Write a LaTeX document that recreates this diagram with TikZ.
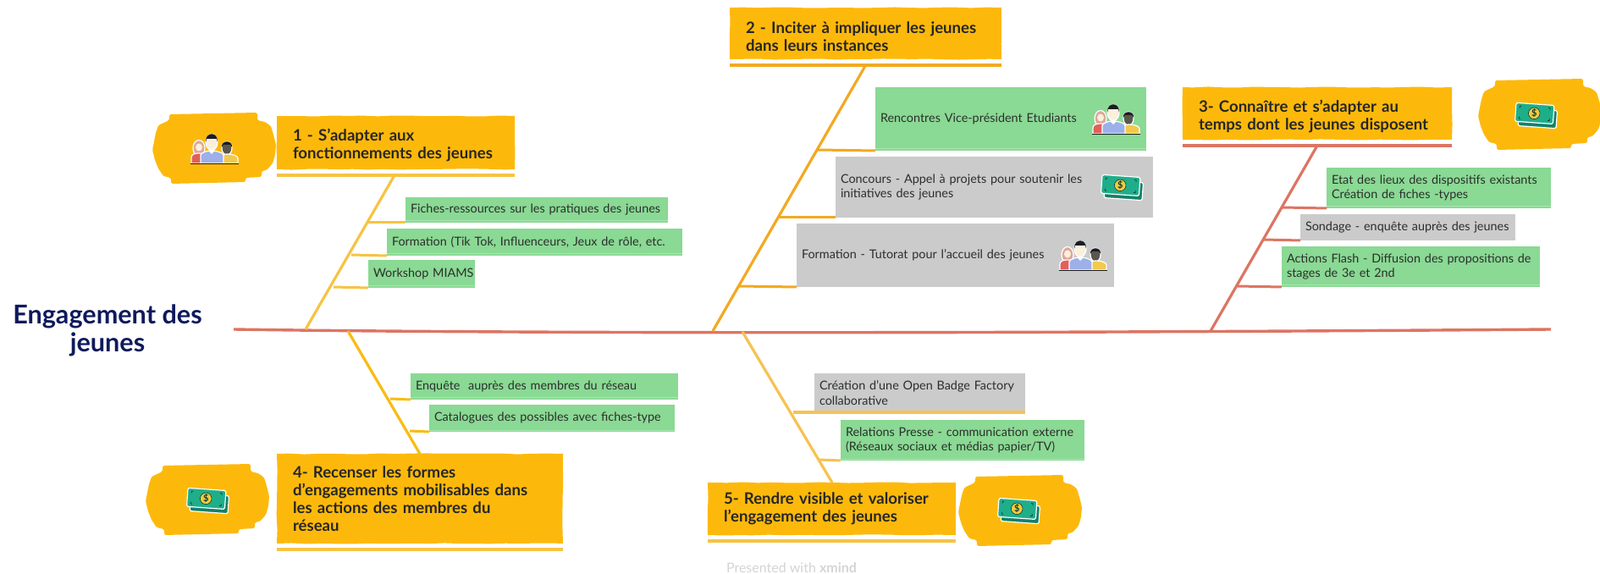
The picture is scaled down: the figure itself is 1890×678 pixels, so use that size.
\documentclass[tikz,border=0pt]{standalone}
\usepackage{fontspec}
\setmainfont{Lato}
\usetikzlibrary{decorations.pathmorphing}
\definecolor{topicyellow}{HTML}{FDB90B}
\definecolor{leafgreen}{HTML}{8AD994}
\definecolor{leaflip}{HTML}{A8E6B0}
\definecolor{leafgray}{HTML}{CBCBCB}
\definecolor{inkgray}{HTML}{2B2F2C}
\definecolor{titlenavy}{HTML}{0E1A5C}
\definecolor{spinered}{HTML}{DC7563}
\definecolor{branchone}{HTML}{F6C444}
\definecolor{branchtwo}{HTML}{F2A922}
\definecolor{branchfour}{HTML}{F8BC14}
\definecolor{branchfive}{HTML}{F6C252}
\definecolor{notefront}{HTML}{1FAE8A}
\definecolor{noteback}{HTML}{15806A}
\definecolor{noteink}{HTML}{0F3D33}
\definecolor{coingold}{HTML}{F5CB3C}
\definecolor{skincream}{HTML}{FBF0DC}
\definecolor{bodyred}{HTML}{E0605A}
\definecolor{hairpink}{HTML}{DFA79B}
\definecolor{bodyblue}{HTML}{9DB0EA}
\definecolor{bodyyellow}{HTML}{F2C94C}
\definecolor{skindark}{HTML}{5A564E}
\definecolor{hairblack}{HTML}{1C1C22}
\newcommand{\topdrop}{\rule{0pt}{10.5pt}}
\tikzset{
	leaf/.style={anchor=north west, outer sep=0pt, inner xsep=3pt, inner ysep=0pt, align=left, text=inkgray, font=\fontsize{7.2}{8.7}\selectfont},
	greenleaf/.style={leaf, fill=leafgreen},
	grayleaf/.style={leaf, fill=leafgray},
	leafsize/.style 2 args={minimum height=#2*0.5pt, text width=#1*0.5pt-6pt},
	topic/.style={anchor=north west, outer sep=0pt, inner xsep=9.5pt, inner ysep=0pt, align=left, fill=topicyellow, text=black!85, font=\fontsize{9.3}{10.5}\selectfont\bfseries, decorate, decoration={random steps, segment length=9pt, amplitude=0.3pt}},
	topicsize/.style 2 args={minimum height=#2*0.5pt, text width=#1*0.5pt-19pt},
	bone/.style={line width=1.6pt},
	twig/.style={line width=1.5pt},
	under/.style={line width=2pt},
	halo/.style={draw=white, line width=0.6pt},
	blob/.pic={
		\fill[topicyellow, rounded corners=1.2pt] (-53,-40) -- (51,-42) -- (51,-33) -- (60,-31) -- (67,-26) -- (70,-16) -- (73,-4) -- (72,8) -- (69,18) -- (62,26) -- (56,27) -- (56,34) -- (37,35) -- (37,40) -- (-51,42) -- (-51,35) -- (-60,33) -- (-66,24) -- (-70,14) -- (-73,2) -- (-71,-8) -- (-69,-18) -- (-66,-27) -- (-53,-33) -- cycle;
	},
	money/.pic={
		\begin{scope}[rotate=-4]
			\draw[halo, fill=noteback, rounded corners=0.8pt] (-20,-8) rectangle (25,13);
			\draw[halo, fill=notefront, rounded corners=0.8pt] (-24,-14) rectangle (21,8);
			\foreach \sx/\sy in {-1/-1, 1/-1, -1/1, 1/1}
				\draw[noteink, line width=0.35pt] ({-1.5+\sx*16}, {-3+\sy*7.5}) -- ({-1.5+\sx*18}, {-3+\sy*7.5}) -- ({-1.5+\sx*18}, {-3+\sy*5});
			\draw[noteink, line width=0.3pt, fill=coingold] (-2,-3) circle (6.8);
			\node[inner sep=0pt, text=noteink, font=\fontsize{5.5}{6}\selectfont\bfseries] (-dollar) at (-2,-3) {\$};
		\end{scope}
	},
	people/.pic={
		\draw[halo, fill=hairpink] (-18,0) ellipse (7 and 9.5);
		\fill[skincream] (-18,-1) ellipse (4 and 4.5);
		\draw[halo, fill=bodyred] (-27,18) -- (-27,11) .. controls (-27,7) and (-22,6) .. (-18,6) .. controls (-14,6) and (-9,7) .. (-9,11) -- (-9,18) -- cycle;
		\draw[halo, fill=skindark] (15,0) ellipse (6 and 8);
		\fill[hairblack] (9,-1) .. controls (8,-10) and (22,-10) .. (21,-1) -- (19,-4) -- (11,-4) -- cycle;
		\draw[halo, fill=bodyyellow] (9,18) -- (9,10) .. controls (10,8) and (12,7) .. (15,7) .. controls (22,7) and (28,9) .. (28,12) -- (28,18) -- cycle;
		\draw[halo, fill=skincream] (-3,-7) ellipse (7 and 9.5);
		\fill[hairblack] (-10,-7) .. controls (-11,-20) and (5,-20) .. (4,-7) -- (3,-11) -- (-9,-11) -- cycle;
		\draw[halo, fill=bodyblue] (-16,18) -- (-16,8) .. controls (-15,5) and (-8,3) .. (-3,3) .. controls (2,3) and (10,5) .. (11,8) -- (11,18) -- cycle;
		\fill[white] (-7,3) -- (-3,7) -- (1,3) -- (-3,1.5) -- cycle;
		\draw[hairblack, line width=0.4pt] (-28,18) -- (28.5,18);
	},
}
\begin{document}
\begin{tikzpicture}[x=0.5pt, y=-0.5pt]
	\useasboundingbox (0,0) rectangle (1890,678);

	\node[inner sep=0pt, align=center, text=titlenavy, font=\fontsize{15.3}{16.5}\selectfont\bfseries] (title) at (127,390) {Engagement des\\jeunes};
	\node[inner sep=0pt, text=black!17, font=\fontsize{8}{9}\selectfont] (xmind) at (935,671) {Presented with \textbf{xmind}};

	\coordinate (spineL) at (276,389);
	\coordinate (spineR) at (1832,389);
	\draw[spinered, line width=1.7pt] (spineL) .. controls (600,394) and (1200,394) .. (spineR);

	% topics
	\pic at (253,175) {blob};
	\node[topic, topicsize={281}{63}] (topic1) at (327,137) {\topdrop 1 - S'adapter aux\\fonctionnements des jeunes};
	\node[topic, topicsize={321}{61}] (topic2) at (862,9) {\topdrop 2 - Inciter à impliquer les jeunes\\dans leurs instances};
	\pic at (1819,135) {blob};
	\node[topic, topicsize={318}{62}] (topic3) at (1397,103) {\topdrop 3- Connaître et s'adapter au\\temps dont les jeunes disposent};
	\pic at (245,590) {blob};
	\node[topic, topicsize={338}{106}] (topic4) at (327,536) {4- Recenser les formes\\d'engagements mobilisables dans\\les actions des membres du\\réseau};
	\pic at (1205,603) {blob};
	\node[topic, topicsize={293}{62}] (topic5) at (836,570) {5- Rendre visible et valoriser\\l'engagement des jeunes};

	\draw[under, branchone] ([yshift=-3.5pt]topic1.south west) -- ([yshift=-3.5pt]topic1.south east);
	\draw[under, branchtwo] ([yshift=-3.5pt]topic2.south west) -- ([yshift=-3.5pt]topic2.south east);
	\draw[under, spinered] ([yshift=-3.5pt]topic3.south west) -- ([yshift=-3.5pt]topic3.south east);
	\draw[under, branchone] ([yshift=-3.5pt]topic4.south west) -- ([yshift=-3.5pt]topic4.south east);
	\draw[under, branchone] ([yshift=-3.5pt]topic5.south west) -- ([yshift=-3.5pt]topic5.south east);

	% leaves
	\node[greenleaf, leafsize={310}{30}] (f1) at (479,233) {\mbox{Fiches-ressources sur les pratiques des jeunes}};
	\node[greenleaf, leafsize={349}{32}] (f2) at (457,270) {\mbox{Formation (Tik Tok, Influenceurs, Jeux de rôle, etc.}};
	\node[greenleaf, leafsize={126}{33}] (f3) at (435,307) {\mbox{Workshop MIAMS}};

	\node[greenleaf, leafsize={320}{75}] (g1) at (1034,103) {Rencontres Vice-président Etudiants};
	\node[grayleaf, leafsize={375}{72}] (g2) at (987,185) {Concours - Appel à projets pour soutenir les\\initiatives des jeunes};
	\node[grayleaf, leafsize={375}{75}] (g3) at (941,264) {Formation - Tutorat pour l'accueil des jeunes};

	\node[greenleaf, leafsize={265}{48}] (h1) at (1567,198) {\mbox{Etat des lieux des dispositifs existants}\\Création de fiches -types};
	\node[grayleaf, leafsize={254}{31}] (h2) at (1536,253) {\mbox{Sondage - enquête auprès des jeunes}};
	\node[greenleaf, leafsize={305}{48}] (h3) at (1514,291) {\mbox{Actions Flash - Diffusion des propositions de}\\stages de 3e et 2nd};

	\node[greenleaf, leafsize={316}{31}] (j1) at (485,441) {Enquête~ auprès des membres du réseau};
	\node[greenleaf, leafsize={290}{32}] (j2) at (507,478) {\mbox{Catalogues des possibles avec fiches-type}};

	\node[grayleaf, leafsize={249}{46}] (k1) at (962,441) {Création d'une Open Badge Factory\\collaborative};
	\node[greenleaf, leafsize={288}{48}] (k2) at (993,496) {\mbox{Relations Presse - communication externe}\\(Réseaux sociaux et médias papier/TV)};

	\foreach \n in {f1,f2,f3,g1,h1,h3,j1,j2,k2}
		\draw[leaflip, line width=0.5pt] ([yshift=1pt]\n.south west) -- ([yshift=1pt]\n.south east);

	% icons
	\pic (icon1) at (253,175) {people};
	\pic (icon2) at (1318,140) {people};
	\pic (icon3) at (1325,222) {money};
	\pic (icon4) at (1279,301) {people};
	\pic (icon5) at (1814,137) {money};
	\pic (icon6) at (245,592) {money};
	\pic (icon7) at (1203,604) {money};

	% branches
	\coordinate (b1) at (466,207);
	\coordinate (s1) at (361,389);
	\coordinate (b2) at (1022,78);
	\coordinate (s2) at (842,391);
	\coordinate (b3) at (1556,172);
	\coordinate (s3) at (1430,391);
	\coordinate (s4) at (411,391);
	\coordinate (b4) at (496,536);
	\coordinate (s5) at (877,392);
	\coordinate (b5) at (983,570);
	\draw[bone, branchone] (b1) -- (s1);
	\draw[bone, branchtwo] (b2) -- (s2);
	\draw[bone, spinered] (b3) -- (s3);
	\draw[bone, branchfour] (s4) -- (b4);
	\draw[bone, branchfive] (s5) -- (b5);

	% twigs
	\coordinate (tf1) at (435,263);
	\coordinate (tf2) at (415,301);
	\coordinate (tf3) at (394,339);
	\draw[twig, branchone] (tf1) -- (f1.south west);
	\draw[twig, branchone] (tf2) -- (f2.south west);
	\draw[twig, branchone] (tf3) -- (f3.south west);
	\coordinate (tg1) at (966,177);
	\coordinate (tg2) at (919,257);
	\coordinate (tg3) at (873,338);
	\draw[twig, branchtwo] (tg1) -- (g1.south west);
	\draw[twig, branchtwo] (tg2) -- (g2.south west);
	\draw[twig, branchtwo] (tg3) -- (g3.south west);
	\coordinate (th1) at (1515,245);
	\coordinate (th2) at (1493,283);
	\coordinate (th3) at (1462,338);
	\draw[twig, spinered] (th1) -- (h1.south west);
	\draw[twig, spinered] (th2) -- (h2.south west);
	\draw[twig, spinered] (th3) -- (h3.south west);
	\coordinate (tj1) at (461,471);
	\coordinate (tj2) at (484,509);
	\draw[twig, branchfour] (tj1) -- (j1.south west);
	\draw[twig, branchfour] (tj2) -- (j2.south west);
	\coordinate (tk1) at (937,487);
	\coordinate (tk2) at (968,543);
	\draw[twig, branchfive] (tk1) -- (k1.south east);
	\draw[twig, branchfive] (tk2) -- (k2.south west);
\end{tikzpicture}
\end{document}
